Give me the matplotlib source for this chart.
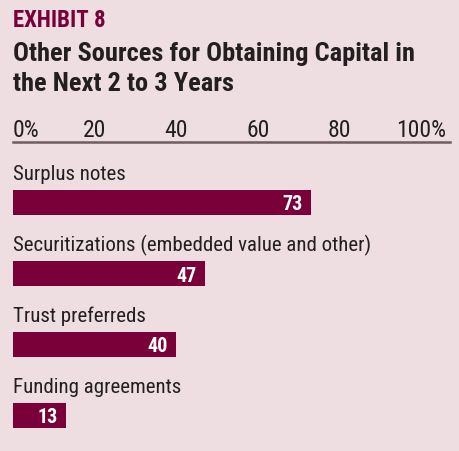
import matplotlib
matplotlib.use('Agg')
import matplotlib.pyplot as plt

# survey data, percent of respondents
sources = ['Surplus notes',
           'Securitizations (embedded value and other)',
           'Trust preferreds',
           'Funding agreements']
shares = [73, 47, 40, 13]

tick_values = [0, 20, 40, 60, 80, 100]
tick_labels = ['0%', '20', '40', '60', '80', '100%']

bg = '#eedde1'
maroon = '#7a0039'
dark = '#231f20'

plt.rcParams['font.family'] = ['Roboto Condensed', 'DejaVu Sans']

W, H = 459, 452
fig = plt.figure(figsize=(W / 100, H / 100), dpi=100, facecolor=bg)

def fx(px):
    return px / W

def fy(py):
    return 1 - py / H

fig.text(fx(13), fy(27), 'EXHIBIT 8', color=maroon, fontsize=16.5,
         fontweight='bold', va='baseline', ha='left')
fig.text(fx(13), fy(61), 'Other Sources for Obtaining Capital in', color=dark,
         fontsize=19, fontweight='bold', va='baseline', ha='left')
fig.text(fx(13), fy(91), 'the Next 2 to 3 Years', color=dark,
         fontsize=19, fontweight='bold', va='baseline', ha='left')

# plot area: x 0..100 runs from px 13 to 421, the rule goes on to px 450
x0, x100, xr = 13, 421, 450
top, bottom = 143, 452
ax = fig.add_axes([fx(x0), fy(bottom), fx(xr - x0), (bottom - top) / H])
ax.set_facecolor(bg)
unit = (x100 - x0) / 100
ax.set_xlim(0, (xr - x0) / unit)

row = 71.0
first = 203.5
ax.set_ylim(3 + (bottom - first - 3 * row) / row, -(first - top) / row)

ypos = list(range(len(sources)))
bar_h = 25 / row
ax.barh(ypos, shares, height=bar_h, color=maroon, align='center')

for y, name, v in zip(ypos, sources, shares):
    ax.text(0, y - bar_h / 2 - 11 / row, name, color=dark, fontsize=15,
            va='baseline', ha='left')
    ax.text(v - 8 / unit, y + 7 / row, str(v), color='white', fontsize=14.5,
            fontweight='bold', va='baseline', ha='right')

for s in ['bottom', 'left', 'right']:
    ax.spines[s].set_visible(False)
ax.spines['top'].set_color('#6e5c60')
ax.spines['top'].set_linewidth(1.8)

ax.xaxis.tick_top()
ax.set_xticks(tick_values)
ax.set_xticklabels(tick_labels, fontsize=17, color=dark)
ax.tick_params(axis='x', length=0, pad=0.5)
ax.get_xticklabels()[0].set_ha('left')
ax.set_yticks([])

fig.savefig('out.png', dpi=100, facecolor=bg)
